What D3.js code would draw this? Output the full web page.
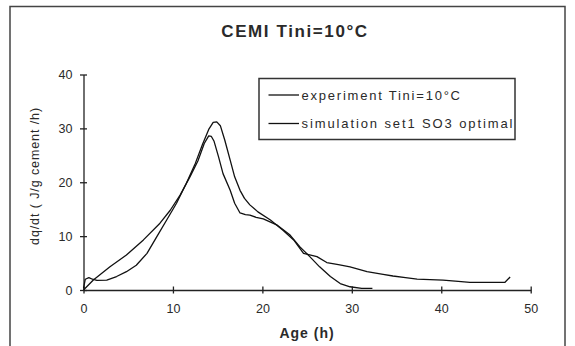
<!DOCTYPE html>
<html>
<head>
<meta charset="utf-8">
<script src="https://cdn.jsdelivr.net/npm/d3@7/dist/d3.min.js"></script>
<style>
  html, body { margin: 0; padding: 0; background: #fff; }
  svg { display: block; }
  text { font-family: "Liberation Sans", Arial, sans-serif; fill: #2a2a2a; }
</style>
</head>
<body>
<svg id="chart" width="575" height="346"></svg>
<script>
// ---- data ----
const title = "CEMI Tini=10°C";
const xTicks = [0, 10, 20, 30, 40, 50];
const yTicks = [0, 10, 20, 30, 40];
const seriesNames = ["experiment Tini=10°C", "simulation set1 SO3 optimal"];

// experiment (initial bump, long tail to ~48 h)
const expT = [0, 0.2, 0.6, 1.0, 1.5, 2.6, 3.7, 4.8, 5.9, 7.1, 8.2, 9.3, 10.4, 11.5, 12.5, 13.3, 14.0, 14.5, 14.9, 15.3, 15.8, 16.4, 16.9, 17.5, 18.0, 18.6, 19.5, 20.9, 22.3, 23.5, 24.6, 26.1, 27.2, 28.5, 29.8, 31.7, 33.5, 34.6, 36.0, 37.3, 40.2, 41.9, 43.2, 44.9, 47.1, 47.7];
const expV = [0.3, 2.0, 2.3, 2.0, 1.8, 1.85, 2.5, 3.4, 4.6, 6.8, 9.9, 13.0, 16.1, 19.8, 23.5, 27.0, 29.8, 31.1, 31.2, 30.5, 27.8, 24.1, 21.0, 18.5, 17.0, 15.8, 14.5, 13.0, 11.1, 9.3, 6.8, 6.2, 5.1, 4.7, 4.3, 3.4, 2.9, 2.6, 2.3, 2.0, 1.85, 1.6, 1.4, 1.4, 1.4, 2.4];

// simulation (smooth, ends ~32 h)
const simT = [0, 1.1, 2.96, 4.8, 6.7, 8.55, 9.7, 10.8, 11.9, 12.8, 13.5, 14.0, 14.3, 14.6, 15.1, 15.6, 16.4, 16.9, 17.5, 18.1, 18.6, 19.3, 20.1, 21.6, 23.1, 24.2, 25.3, 26.4, 27.6, 28.7, 29.8, 31.1, 32.3];
const simV = [0, 1.85, 4.3, 6.5, 9.3, 12.4, 14.8, 17.6, 21.0, 24.0, 27.2, 28.6, 28.5, 27.6, 24.7, 21.6, 18.5, 16.1, 14.3, 14.0, 13.9, 13.5, 13.2, 12.1, 10.2, 8.0, 6.2, 4.3, 2.5, 1.2, 0.6, 0.3, 0.3];

// ---- drawing ----
const svg = d3.select("#chart");
const x = d3.scaleLinear().domain([0, 50]).range([83.5, 530.7]);
const y = d3.scaleLinear().domain([0, 40]).range([290, 74.5]);

// outer frame
svg.append("rect").attr("x", 10).attr("y", 6.5).attr("width", 555).attr("height", 360)
  .attr("fill", "none").attr("stroke", "#444").attr("stroke-width", 1.5);

// title
svg.append("text").attr("x", 295).attr("y", 37).attr("text-anchor", "middle")
  .attr("font-size", 17).attr("font-weight", "bold").attr("letter-spacing", 1.6)
  .text(title);

// axes
const xAxis = d3.axisBottom(x).tickValues(xTicks).tickSize(0).tickPadding(0).tickFormat(d3.format("d"));
const gx = svg.append("g").attr("transform", `translate(0,${y(0)})`).call(xAxis);
gx.select(".domain").attr("stroke", "#222").attr("stroke-width", 1.3);
gx.selectAll(".tick line").remove();
gx.selectAll(".tick").append("line").attr("y1", -3.5).attr("y2", 3.5).attr("stroke", "#222").attr("stroke-width", 1.3);
gx.selectAll(".tick text").attr("y", 22.5).attr("dy", null).attr("font-size", 12.5).attr("fill", "#333")
  .style("font-family", '"Liberation Sans", Arial, sans-serif');

const yAxis = d3.axisLeft(y).tickValues(yTicks).tickSize(0).tickPadding(0).tickFormat(d3.format("d"));
const gy = svg.append("g").attr("transform", `translate(${x(0)},0)`).call(yAxis);
gy.select(".domain").attr("stroke", "#222").attr("stroke-width", 1.3);
gy.selectAll(".tick line").remove();
gy.selectAll(".tick").append("line").attr("x1", -3.5).attr("x2", 3.5).attr("stroke", "#222").attr("stroke-width", 1.3);
gy.selectAll(".tick text").attr("x", -11).attr("dy", "0.35em").attr("font-size", 12.5).attr("fill", "#333")
  .style("font-family", '"Liberation Sans", Arial, sans-serif');

// axis titles
svg.append("text").attr("x", 307).attr("y", 338).attr("text-anchor", "middle")
  .attr("font-size", 14).attr("font-weight", "bold").attr("letter-spacing", 1)
  .text("Age (h)");
svg.append("text").attr("transform", "translate(39,176) rotate(-90)").attr("text-anchor", "middle")
  .attr("font-size", 12.5).attr("letter-spacing", 0.9)
  .text("dq/dt  ( J/g cement /h)");

// lines
const line = d3.line().x(d => x(d[0])).y(d => y(d[1]));
const series = [d3.zip(expT, expV), d3.zip(simT, simV)];
svg.selectAll("path.series").data(series).enter().append("path")
  .attr("class", "series").attr("d", line)
  .attr("fill", "none").attr("stroke", "#111").attr("stroke-width", 1.3).attr("stroke-linejoin", "round");

// legend
svg.append("rect").attr("x", 259).attr("y", 78.5).attr("width", 256).attr("height", 61)
  .attr("fill", "#fff").attr("stroke", "#333").attr("stroke-width", 1.5);
const legY = [95, 123.5];
const legLen = [158.5, 211];
seriesNames.forEach((n, i) => {
  svg.append("line").attr("x1", 268.5).attr("x2", 299).attr("y1", legY[i]).attr("y2", legY[i])
    .attr("stroke", "#111").attr("stroke-width", 1.3);
  svg.append("text").attr("x", 301.5).attr("y", legY[i]).attr("dy", "0.35em")
    .attr("font-size", 13).attr("textLength", legLen[i]).attr("lengthAdjust", "spacing")
    .text(n);
});
</script>
</body>
</html>
